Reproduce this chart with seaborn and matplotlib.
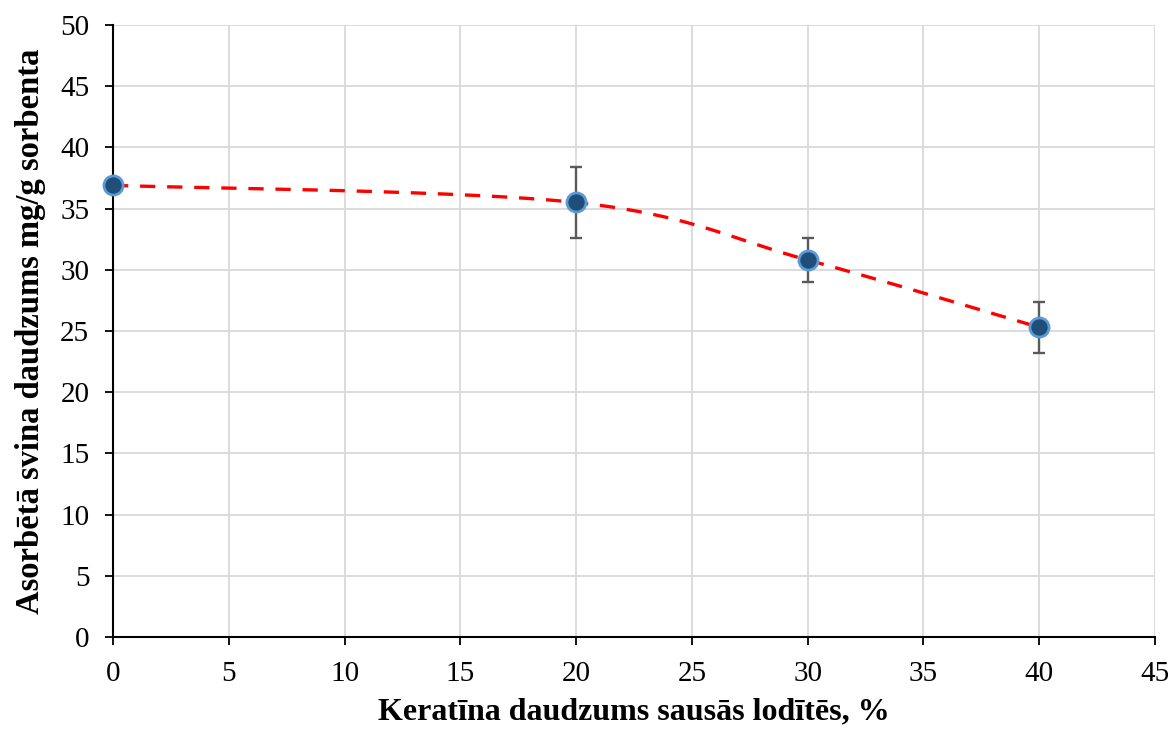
import numpy as np
import matplotlib
matplotlib.use("Agg")
import matplotlib.pyplot as plt
import seaborn as sns
import pandas as pd

keratin = [0, 20, 30, 40]
sorbed = [36.9, 35.5, 30.8, 25.3]
err = [0.0, 2.9, 1.8, 2.1]
x_label = "Keratīna daudzums sausās lodītēs, %"
y_label = "Asorbētā svina daudzums mg/g sorbenta"

sns.set_theme(style="whitegrid")
plt.rcParams['font.family'] = ['Liberation Serif', 'DejaVu Serif']

fig = plt.figure(figsize=(11.72, 7.29), dpi=100)
ax = fig.add_axes([0.0964, 0.1262, 0.8891, 0.8395])

# Smoothed (Excel-like Bezier) curve through the data points
pts = np.column_stack([keratin, sorbed]).astype(float)
ext = np.vstack([pts[0], pts, pts[-1]])
curve = []
for i in range(1, len(ext) - 2):
    p0, p1, p2, p3 = ext[i - 1], ext[i], ext[i + 1], ext[i + 2]
    c1 = p1 + (p2 - p0) / 6.0
    c2 = p2 - (p3 - p1) / 6.0
    t = np.linspace(0, 1, 60)[:, None]
    seg = ((1 - t) ** 3) * p1 + 3 * ((1 - t) ** 2) * t * c1 + 3 * (1 - t) * t ** 2 * c2 + t ** 3 * p2
    curve.append(seg)
curve = np.vstack(curve)
lw = 2.4
ax.plot(curve[:, 0], curve[:, 1], color="#FF0000", lw=lw, dashes=(11.0 / lw, 8.5 / lw), zorder=2)

ax.errorbar(keratin, sorbed, yerr=err, fmt="none", ecolor="#5A5A5A", elinewidth=1.7,
            capsize=4.5, capthick=1.7, zorder=3)

df = pd.DataFrame({"x": keratin, "y": sorbed})
sns.scatterplot(data=df, x="x", y="y", ax=ax, s=190, color="#1F4E79",
                edgecolor="#5B9BD5", linewidth=2.0, zorder=4, clip_on=False)

ax.set_xlim(0, 45)
ax.set_ylim(0, 50)
ax.set_xticks(np.arange(0, 46, 5))
ax.set_yticks(np.arange(0, 51, 5))
ax.grid(True, color="#D9D9D9", linewidth=1.3)
for s in ["top", "right"]:
    ax.spines[s].set_visible(False)
for s in ["left", "bottom"]:
    ax.spines[s].set_color("black")
    ax.spines[s].set_linewidth(1.5)
ax.tick_params(axis="both", which="major", direction="out", length=6, width=1.3,
               color="black", labelsize=21, labelcolor="black", bottom=True, left=True, pad=11)
ax.set_xlabel(x_label, fontsize=23, fontweight="bold", color="black", labelpad=8)
ax.set_ylabel(y_label, fontsize=23.5, fontweight="bold", color="black", labelpad=10)
ax.set_axisbelow(True)

fig.savefig("out.png", dpi=100)
